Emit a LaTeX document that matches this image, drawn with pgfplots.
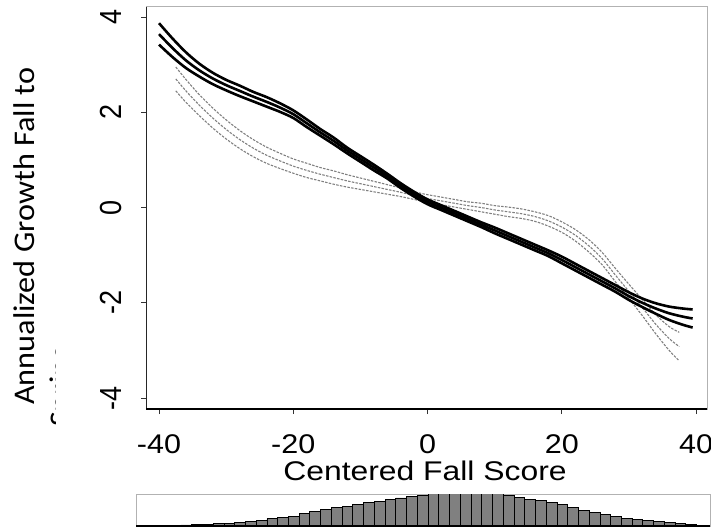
\documentclass[border=0pt]{standalone}
\usepackage{pgfplots}
\pgfplotsset{compat=1.18}
\usepackage{pgfplotstable}
\usepackage{graphicx}
\usepackage{fontspec}
\setmainfont{Liberation Sans}
\newfontfamily\calibri{Carlito}

\pgfplotstableread{
x mid up lo
-40 3.64 3.87 3.42
-38 3.35 3.55 3.16
-36 3.09 3.26 2.93
-34 2.88 3.02 2.75
-32 2.71 2.83 2.59
-30 2.57 2.68 2.46
-28 2.45 2.56 2.34
-26 2.33 2.43 2.23
-24 2.22 2.32 2.12
-22 2.10 2.19 2.01
-20 1.96 2.04 1.88
-18 1.77 1.85 1.69
-16 1.58 1.65 1.51
-14 1.40 1.47 1.33
-12 1.20 1.26 1.14
-10 1.02 1.08 0.96
-8 0.84 0.90 0.78
-6 0.66 0.71 0.61
-4 0.46 0.51 0.41
-2 0.28 0.33 0.23
0 0.12 0.17 0.07
2 0.00 0.05 -0.05
4 -0.12 -0.07 -0.17
6 -0.24 -0.19 -0.29
8 -0.36 -0.31 -0.41
10 -0.48 -0.42 -0.54
12 -0.60 -0.54 -0.66
14 -0.72 -0.66 -0.78
16 -0.84 -0.78 -0.90
18 -0.96 -0.90 -1.02
20 -1.10 -1.03 -1.17
22 -1.25 -1.18 -1.32
24 -1.40 -1.33 -1.47
26 -1.55 -1.48 -1.62
28 -1.70 -1.63 -1.77
30 -1.86 -1.78 -1.94
32 -2.00 -1.91 -2.09
34 -2.12 -2.01 -2.23
36 -2.22 -2.08 -2.36
38 -2.29 -2.12 -2.46
39.5 -2.33 -2.14 -2.52
}\blacktab

\pgfplotstableread{
x mid up lo
-37.5 2.70 2.95 2.45
-36 2.45 2.69 2.21
-34 2.15 2.37 1.93
-32 1.88 2.09 1.67
-30 1.64 1.84 1.44
-28 1.43 1.62 1.24
-26 1.25 1.43 1.07
-24 1.10 1.27 0.93
-22 0.98 1.14 0.82
-20 0.87 1.02 0.72
-18 0.78 0.93 0.63
-16 0.70 0.84 0.56
-14 0.63 0.77 0.49
-12 0.56 0.69 0.43
-10 0.50 0.62 0.38
-8 0.44 0.55 0.33
-6 0.38 0.48 0.28
-4 0.32 0.41 0.23
-2 0.25 0.33 0.17
0 0.19 0.27 0.11
2 0.14 0.22 0.06
4 0.09 0.17 0.01
6 0.04 0.12 -0.04
8 0.00 0.09 -0.09
10 -0.05 0.04 -0.14
12 -0.09 0.01 -0.19
14 -0.13 -0.03 -0.23
16 -0.19 -0.09 -0.29
18 -0.28 -0.17 -0.39
20 -0.41 -0.30 -0.52
22 -0.58 -0.46 -0.70
24 -0.80 -0.67 -0.93
26 -1.07 -0.94 -1.20
28 -1.42 -1.28 -1.56
30 -1.76 -1.61 -1.91
32 -2.10 -1.93 -2.27
34 -2.45 -2.25 -2.65
36 -2.75 -2.50 -3.00
37.5 -2.92 -2.62 -3.22
}\graytab

\pgfplotstableread{
x h
-39.2 0.5
-37.6 0.8
-36.0 1.1
-34.4 1.4
-32.8 2.0
-31.2 2.5
-29.6 3.0
-28.0 4.0
-26.4 5.0
-24.8 6.0
-23.2 7.3
-21.6 8.7
-20.0 10.0
-18.4 12.3
-16.8 14.4
-15.2 16.6
-13.6 18.4
-12.0 19.7
-10.4 21.6
-8.8 23.2
-7.2 24.6
-5.6 26.4
-4.0 28.1
-2.4 29.4
-0.8 30.8
0.8 33
2.4 33
4.0 33
5.6 33
7.2 33
8.8 33
10.4 33
12.0 31.0
13.6 28.7
15.2 27.0
16.8 25.4
18.4 23.7
20.0 21.5
21.6 18.5
23.2 16.0
24.8 13.8
26.4 11.8
28.0 9.9
29.6 8.0
31.2 6.8
32.8 5.6
34.4 4.5
36.0 3.5
37.6 2.7
39.2 2.0
}\histtab

\begin{document}
\begin{tikzpicture}[x=1pt,y=1pt]
% y-axis title (second line clipped as in the reference)
\node[rotate=90, anchor=base west, inner sep=0pt] at (34pt,126pt)
  {\calibri\fontsize{30}{30}\selectfont\scalebox{1.075}[1]{Annualized Growth Fall to}};
\begin{scope}
\clip (0,0) rectangle (55pt,531pt);
\node[rotate=90, anchor=base west, inner sep=0pt] at (70pt,104pt)
  {\calibri\fontsize{30}{30}\selectfont\scalebox{1.075}[1]{Spring}};
\end{scope}

\begin{axis}[
  at={(146pt,122pt)}, anchor=south west,
  scale only axis, width=561pt, height=402pt,
  xmin=-41.94, xmax=41.64, ymin=-4.23, ymax=4.21,
  axis line style={draw=gray!60, line width=1pt},
  tick align=outside, xtick pos=left, ytick pos=left,
  major tick length=5pt,
  tick style={draw=black!80, line width=1pt},
  xtick={-40,-20,0,20,40},
  xticklabels={{\scalebox{1.13}[1]{-40}},{\scalebox{1.13}[1]{-20}},{\scalebox{1.13}[1]{0}},{\scalebox{1.13}[1]{20}},{\scalebox{1.13}[1]{40}}},
  ytick={-4,-2,0,2,4},
  yticklabels={{\scalebox{1}[1.13]{-4}},{\scalebox{1}[1.13]{-2}},{\scalebox{1}[1.13]{0}},{\scalebox{1}[1.13]{2}},{\scalebox{1}[1.13]{4}}},
  xticklabel style={font=\fontsize{27}{27}\selectfont, anchor=north, inner sep=0pt},
  xticklabel shift=20pt,
  yticklabel style={font=\fontsize{27}{27}\selectfont, rotate=90, anchor=south, inner sep=0pt},
  yticklabel shift=19pt,
]
\draw[black!85, line width=1.3pt] (rel axis cs:0,0) -- (rel axis cs:0,1);
\draw[black, line width=1.5pt] (rel axis cs:0,0) -- (rel axis cs:1,0);
% gray group
\addplot[gray, line width=1.1pt, dash pattern=on 2.5pt off 1.3pt, smooth] table[x=x, y=up] {\graytab};
\addplot[gray, line width=1.1pt, dash pattern=on 2.5pt off 1.3pt, smooth] table[x=x, y=mid] {\graytab};
\addplot[gray, line width=1.1pt, dash pattern=on 2.5pt off 1.3pt, smooth] table[x=x, y=lo] {\graytab};
% black group
\addplot[black, line width=2.6pt, smooth] table[x=x, y=up] {\blacktab};
\addplot[black, line width=2.6pt, smooth] table[x=x, y=mid] {\blacktab};
\addplot[black, line width=2.6pt, smooth] table[x=x, y=lo] {\blacktab};
\end{axis}

\node[anchor=base, inner sep=0pt] at (425pt,51pt)
  {\fontsize{27}{27}\selectfont\scalebox{1.18}[1]{Centered Fall Score}};

\begin{axis}[
  at={(136pt,5pt)}, anchor=south west,
  scale only axis, width=574pt, height=32pt,
  xmin=-43.5, xmax=42.0, ymin=0, ymax=32,
  axis line style={draw=gray!60, line width=1pt},
  ticks=none,
]
\addplot[ybar, bar width=1.6, fill=black!50, draw=black, line width=0.8pt] table[x=x, y=h] {\histtab};
\draw[black, line width=1.6pt] (rel axis cs:0,0) -- (rel axis cs:1,0);
\end{axis}

\pgfresetboundingbox
\path[use as bounding box] (0,0) rectangle (711pt,531pt);
\end{tikzpicture}
\end{document}
